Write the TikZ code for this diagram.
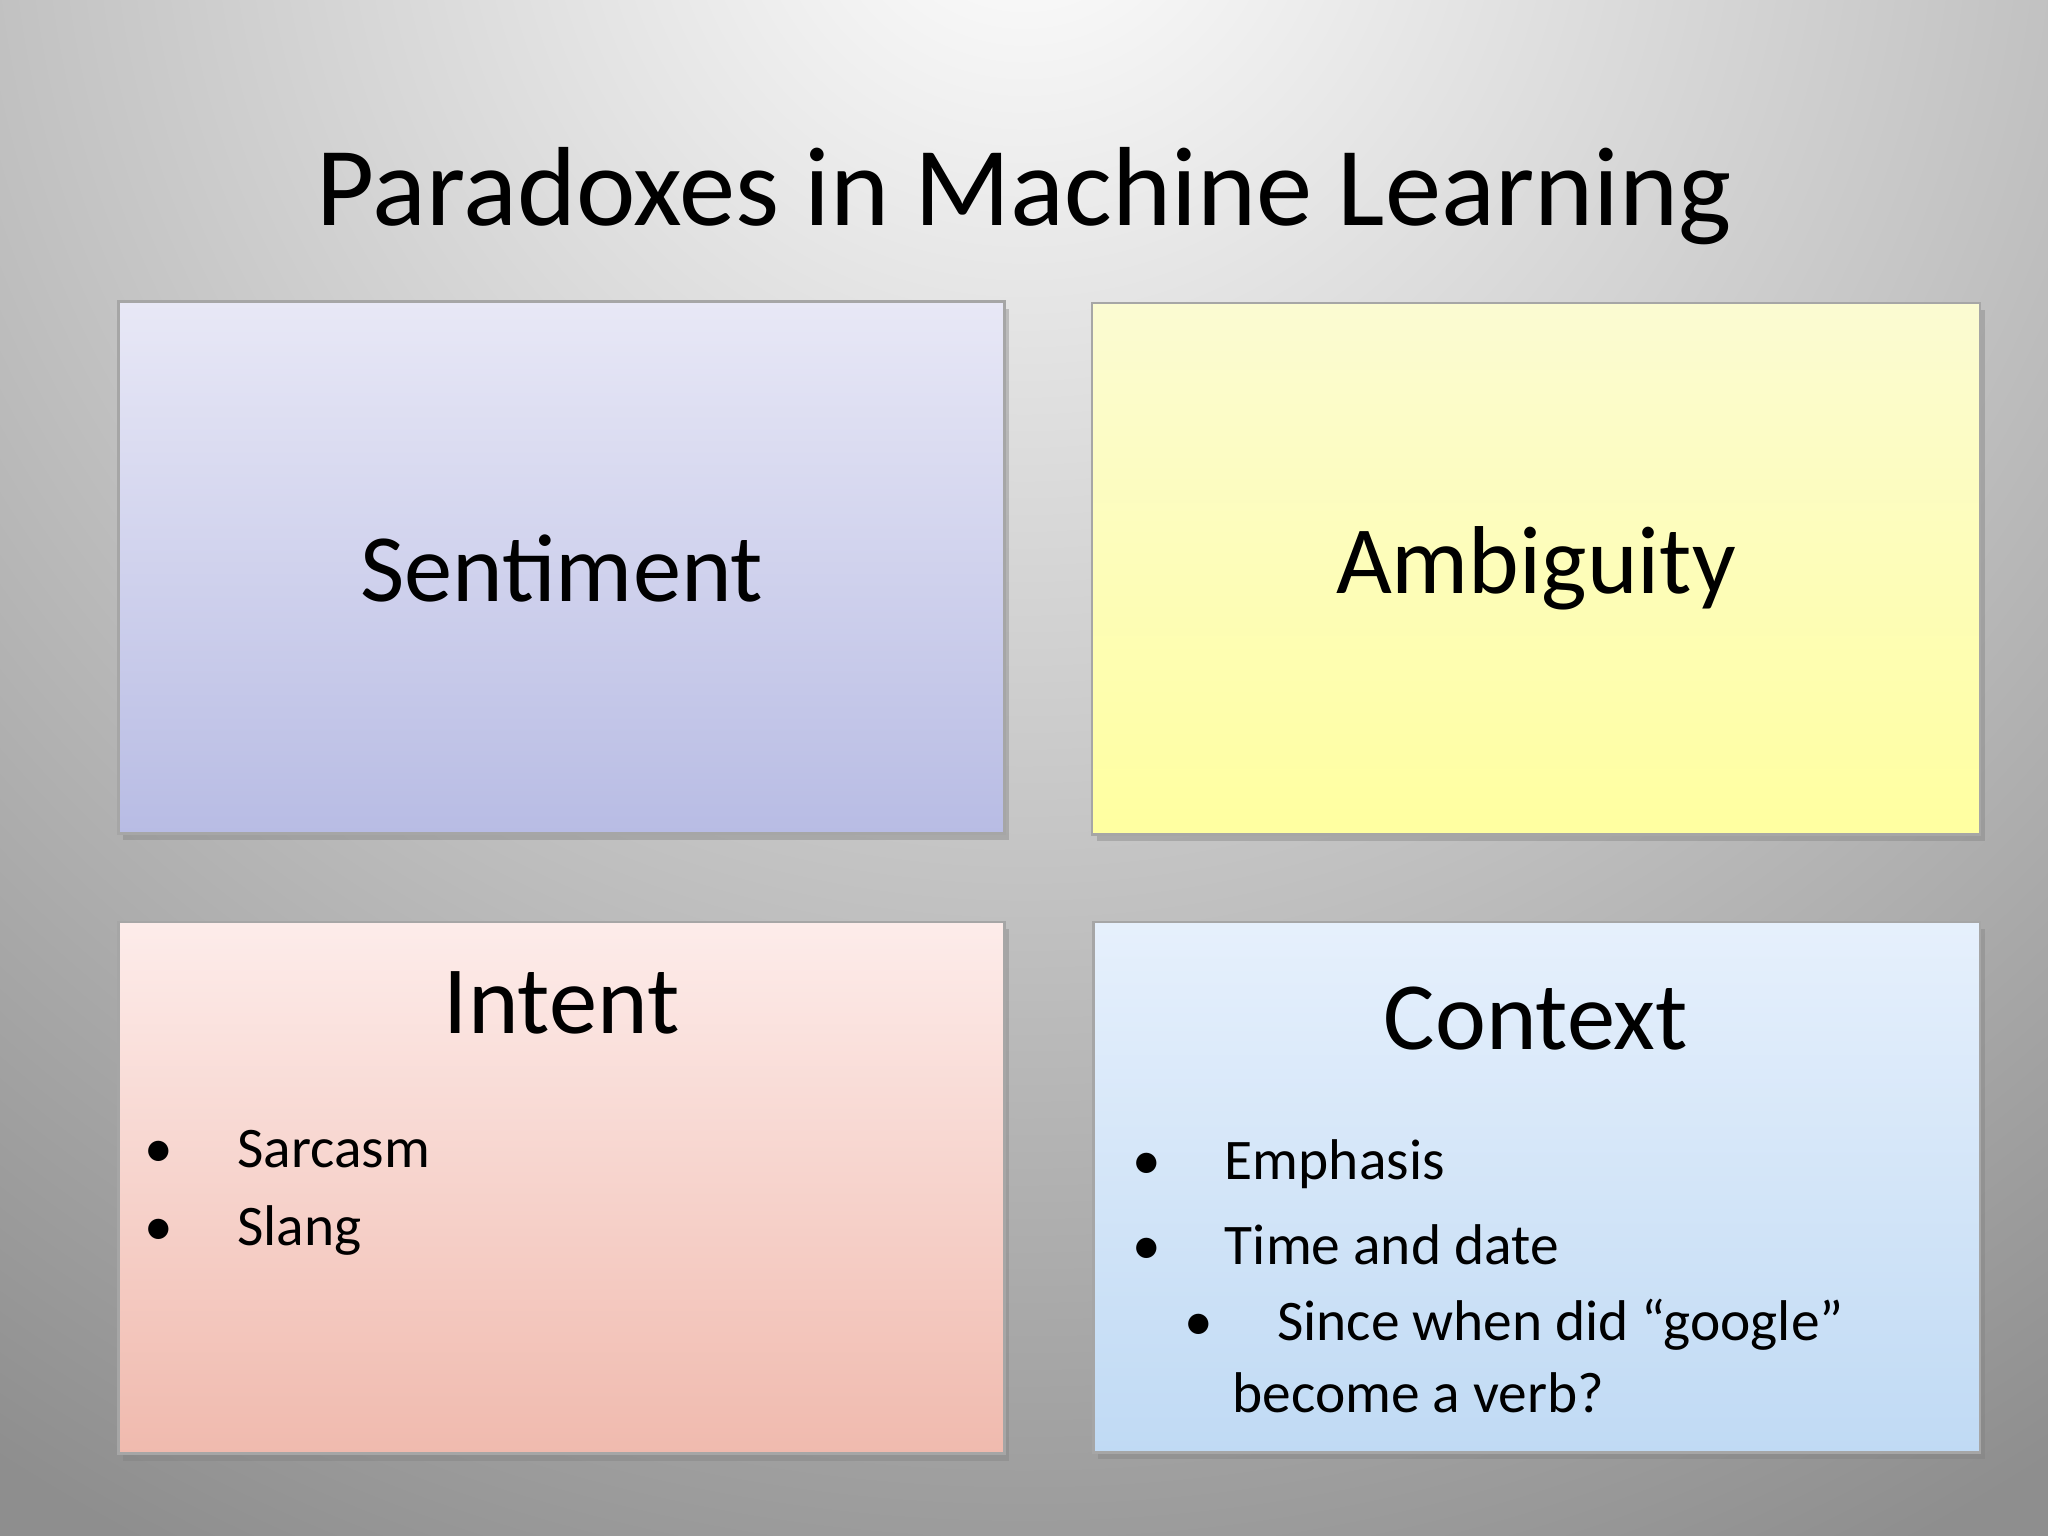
\documentclass[tikz,border=0pt]{standalone}
\usepackage{fontspec}
\setmainfont{Carlito}
\usetikzlibrary{shadows}
\definecolor{bgout}{HTML}{8E8E8E}
\tikzset{
  card/.style={draw=gray!70, line width=0.6pt, drop shadow={shadow xshift=1pt,shadow yshift=-1.5pt,opacity=0.4}},
  head/.style={font=\fontsize{21}{25}\selectfont, anchor=center},
  bul/.style={font=\fontsize{12.5}{15}\selectfont, anchor=west, inner sep=0pt},
}
\begin{document}
\begin{tikzpicture}[x=0.01cm,y=-0.01cm]
\useasboundingbox (0,0) rectangle (1568,1176);
\fill[bgout] (0,0) rectangle (1568,1176);
\begin{scope}
\clip (0,0) rectangle (1568,1176);
\shade[inner color=white, outer color=bgout] (784,-100) circle (1450);
\end{scope}
\node[font=\fontsize{24.5}{29}\selectfont] (title) at (784,150) {Paradoxes in Machine Learning};
% boxes
\path[card, top color={rgb,255:red,232;green,232;blue,246}, bottom color={rgb,255:red,184;green,188;blue,228}] (91,231) rectangle (769,638);
\node[head] (sent) at (430,435) {Sentiment};
\path[card, top color={rgb,255:red,251;green,251;blue,210}, bottom color={rgb,255:red,255;green,255;blue,160}] (836,232) rectangle (1516,639);
\node[head] (amb) at (1176,435) {Ambiguity};
\path[card, top color={rgb,255:red,253;green,236;blue,234}, bottom color={rgb,255:red,240;green,186;blue,174}] (91,706) rectangle (769,1113);
\node[head] (int) at (430,768) {Intent};
\path[card, top color={rgb,255:red,230;green,240;blue,252}, bottom color={rgb,255:red,192;green,218;blue,244}] (837,706) rectangle (1516,1112);
\node[head] (ctx) at (1176,780) {Context};
% bullets
\node[bul] (b1) at (110,880) {•\hspace{14pt}Sarcasm};
\node[bul] (b2) at (110,942) {•\hspace{14pt}Slang};
\node[bul] (c1) at (866,891) {•\hspace{14pt}Emphasis};
\node[bul] (c2) at (866,953) {•\hspace{14pt}Time and date};
\node[bul] (c3) at (906,1014) {•\hspace{14pt}Since when did “google”};
\node[bul] (c4) at (943,1066) {become a verb?};
\end{tikzpicture}
\end{document}
